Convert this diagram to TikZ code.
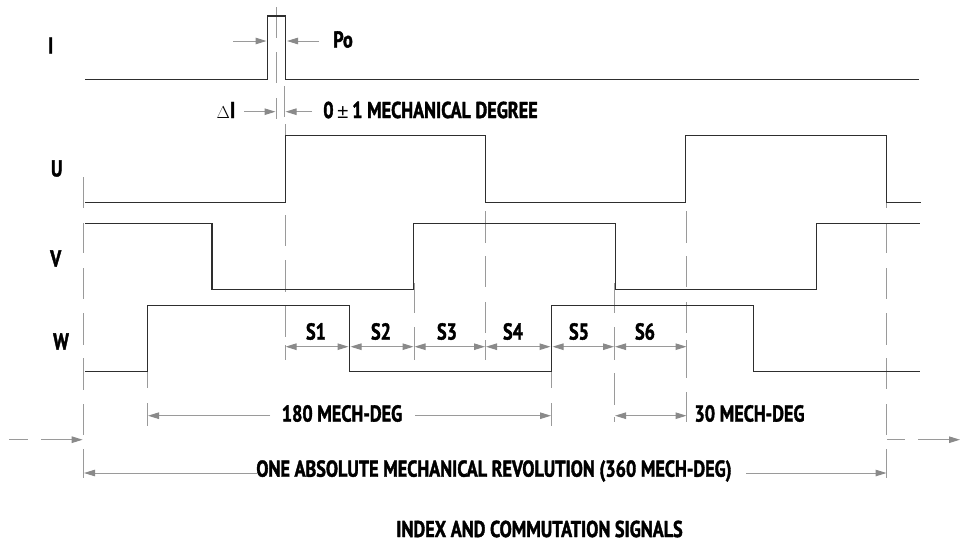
\documentclass[tikz,border=0pt]{standalone}
\usepackage{fontspec}
\usetikzlibrary{arrows.meta}
\setmainfont[FakeStretch=0.79,BoldFont={PT Sans Bold},BoldFeatures={FakeStretch=0.79,FakeBold=1.6}]{PT Sans}
\newfontfamily\symf{Liberation Sans}
\definecolor{sigc}{HTML}{2E2E2E}
\definecolor{dimc}{HTML}{9A9A9A}
\definecolor{headc}{HTML}{8A8A8A}
\tikzset{
  signal/.style={draw=sigc,line width=1.25pt,line join=miter},
  guide/.style={draw=dimc,line width=1pt},
  dimline/.style={draw=dimc,line width=1pt,
    arrows={-Triangle[length=11pt,width=6.5pt,color=headc]}},
  dimboth/.style={draw=dimc,line width=1pt,
    arrows={Triangle[length=11pt,width=6.5pt,color=headc]-Triangle[length=11pt,width=6.5pt,color=headc]}},
  lbl/.style={font=\fontsize{23}{23}\selectfont\bfseries,inner sep=0pt,text=black,anchor=center}
}
\begin{document}
\begin{tikzpicture}[x=1pt,y=-1pt]
\useasboundingbox (0,0) rectangle (969,542);
% guide dashes
\foreach \x/\a/\b in {
  276.3/7/38, 276.3/52/83, 276.3/98/119,
  284.5/86/117, 285/124/135, 285/215/246, 285/260/292, 285/305/337, 285/345/360,
  83.5/177/208, 83.5/223/253, 83.5/268/299, 83.5/313/345, 83.5/358/390, 83.5/404/435, 83.5/449/478,
  147.5/372/388, 147.5/403/426,
  349.5/348/360,
  414/283/313, 414/327/360,
  485.5/211/243, 485.5/256/287, 485.5/302/333, 485.5/340/360,
  551.7/372/388, 551.7/403/426,
  614.3/283/313, 614.3/327/360, 614.3/373/405, 614.3/417/422,
  686.7/211/243, 686.7/256/287, 686.7/302/333, 686.7/340/378, 686.7/392/422,
  886.7/177/208, 886.7/223/253, 886.7/268/299, 886.7/313/345, 886.7/358/389, 886.7/404/435, 886.7/449/478}
  {\draw[guide] (\x,\a) -- (\x,\b);}
% signals
\draw[signal] (85,79.6) -- (267.5,79.6) -- (267.5,16) -- (285.3,16) -- (285.3,79.6) -- (919,79.6);
\draw[signal] (85,202.4) -- (285.2,202.4) -- (285.2,135.8) -- (485.7,135.8) -- (485.7,202.4) -- (685.8,202.4) -- (685.8,135.8) -- (886.3,135.8) -- (886.3,202.4) -- (920.5,202.4);
\draw[signal] (85,223.3) -- (212,223.3) -- (212,289.3) -- (413.3,289.3) -- (413.3,223.3) -- (615.2,223.3) -- (615.2,289.3) -- (816.7,289.3) -- (816.7,223.3) -- (920,223.3);
\draw[signal] (85,371.7) -- (147.4,371.7) -- (147.4,305.3) -- (349.4,305.3) -- (349.4,371.7) -- (551.7,371.7) -- (551.7,305.3) -- (753.7,305.3) -- (753.7,371.7) -- (920,371.7);
% labels
\node[lbl] (lI) at (50.7,45.5) {I};
\node[lbl] (lU) at (56.7,168.5) {U};
\node[lbl] (lV) at (55.7,258.5) {V};
\node[lbl] (lW) at (61,341.5) {W};
\node[lbl] (lPo) at (343,39.5) {Po};
\node[lbl] (lDI) at (226,110) {{\mdseries\symf\fontsize{19}{19}\selectfont$\Delta$}I};
\node[lbl] (lDeg) at (430.5,110) {0\,{\mdseries\symf\fontsize{20}{20}\selectfont ±}\,1 MECHANICAL DEGREE};
\node[lbl] (s1) at (316,331.5) {S1};
\node[lbl] (s2) at (381,331.5) {S2};
\node[lbl] (s3) at (447,331.5) {S3};
\node[lbl] (s4) at (513,331.5) {S4};
\node[lbl] (s5) at (579,331.5) {S5};
\node[lbl] (s6) at (645,331.5) {S6};
\node[lbl] (l180) at (342,413.5) {180 MECH-DEG};
\node[lbl] (l30) at (749.5,413.5) {30 MECH-DEG};
\node[lbl] (l360) at (494,471) {ONE ABSOLUTE MECHANICAL REVOLUTION (360 MECH-DEG)};
\node[lbl] (title) at (539.5,529) {INDEX AND COMMUTATION SIGNALS};
% dimension arrows
\draw[dimline] (233,41) -- (266.5,41);
\draw[dimline] (319,41) -- (287,41);
\draw[dimline] (244,111.7) -- (275.5,111.7);
\draw[dimline] (312,111.7) -- (285.5,111.7);
\foreach \a/\b in {285.5/348.5, 350.5/413.5, 414.5/485, 486/550.5, 552.5/614, 615/686.5}
  {\draw[dimboth] (\a,346.7) -- (\b,346.7);}
\draw[dimline] (270,415.7) -- (148,415.7);
\draw[dimline] (415,415.7) -- (551,415.7);
\draw[dimboth] (615,415.7) -- (686.5,415.7);
\draw[dimline] (258,473) -- (84,473);
\draw[dimline] (746,473) -- (886.5,473);
\draw[guide] (9,439.7) -- (28,439.7);
\draw[dimline] (41,439.7) -- (82.7,439.7);
\draw[guide] (887.3,439.7) -- (905,439.7);
\draw[dimline] (918,439.7) -- (960,439.7);
\end{tikzpicture}
\end{document}
